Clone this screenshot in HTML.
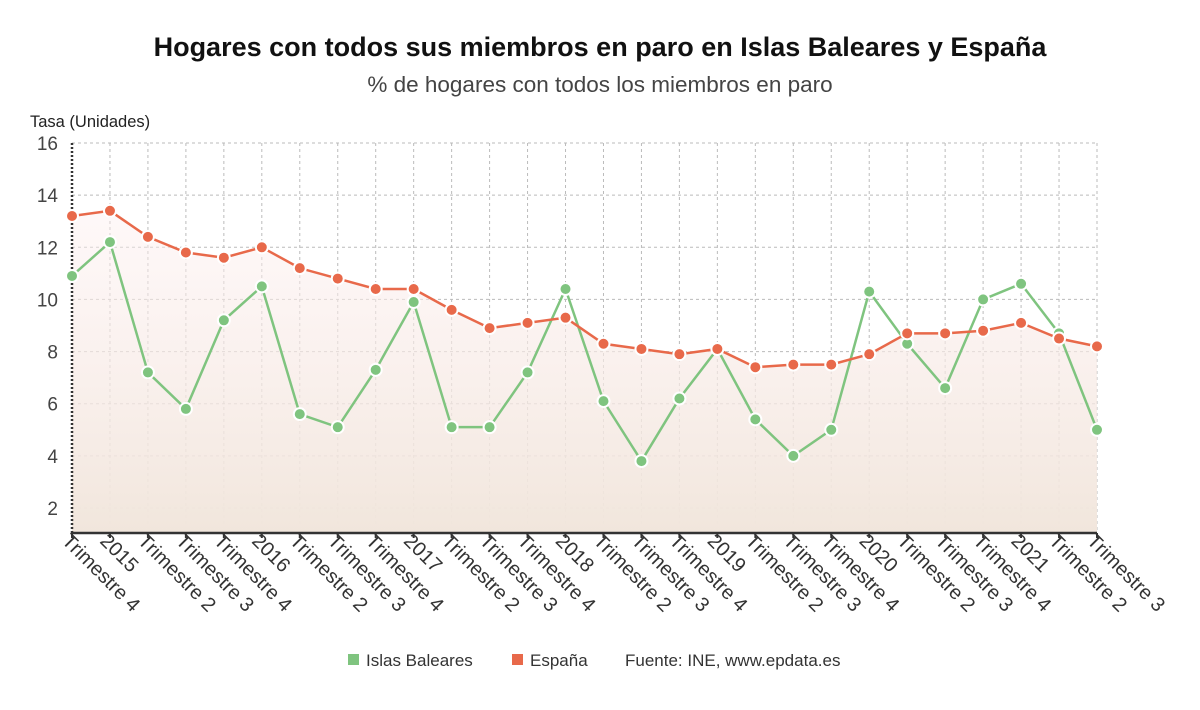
<!DOCTYPE html>
<html><head><meta charset="utf-8"><style>
body{margin:0;background:#fff;width:1200px;height:705px;overflow:hidden;font-family:"Liberation Sans","DejaVu Sans",sans-serif}
</style></head><body>
<svg id="chart" width="1200" height="705" xmlns="http://www.w3.org/2000/svg">
<defs><linearGradient id="g" x1="0" y1="0" x2="0" y2="1"><stop offset="0" stop-color="#fdeeee" stop-opacity="0.4"/><stop offset="1" stop-color="#f1e6dc"/></linearGradient></defs>
<text x="600" y="56" text-anchor="middle" font-size="27" font-weight="bold" fill="#111">Hogares con todos sus miembros en paro en Islas Baleares y España</text>
<text x="600" y="92" text-anchor="middle" font-size="22.5" fill="#444">% de hogares con todos los miembros en paro</text>
<text x="30" y="127" font-size="16.5" fill="#222">Tasa (Unidades)</text>
<g id="grid"></g><g id="area"></g><g id="lines"></g><g id="xlabels"></g>
<g font-size="17" fill="#333">
<rect x="348" y="654" width="11" height="11" fill="#7fc47f"/>
<text x="366" y="666">Islas Baleares</text>
<rect x="512" y="654" width="11" height="11" fill="#e8694a"/>
<text x="530" y="666">España</text>
<text x="625" y="666">Fuente: INE, www.epdata.es</text>
</g>
</svg>
<script>
const categories=["Trimestre 4","2015","Trimestre 2","Trimestre 3","Trimestre 4","2016","Trimestre 2","Trimestre 3","Trimestre 4","2017","Trimestre 2","Trimestre 3","Trimestre 4","2018","Trimestre 2","Trimestre 3","Trimestre 4","2019","Trimestre 2","Trimestre 3","Trimestre 4","2020","Trimestre 2","Trimestre 3","Trimestre 4","2021","Trimestre 2","Trimestre 3"];
const baleares=[10.9,12.2,7.2,5.8,9.2,10.5,5.6,5.1,7.3,9.9,5.1,5.1,7.2,10.4,6.1,3.8,6.2,8.1,5.4,4.0,5.0,10.3,8.3,6.6,10.0,10.6,8.7,5.0];
const espana=[13.2,13.4,12.4,11.8,11.6,12.0,11.2,10.8,10.4,10.4,9.6,8.9,9.1,9.3,8.3,8.1,7.9,8.1,7.4,7.5,7.5,7.9,8.7,8.7,8.8,9.1,8.5,8.2];
const yTicks=[2,4,6,8,10,12,14,16];
const X0=72,X1=1097,Y16=143,YB=533,UNIT=(508-143)/14;
const x=i=>X0+i*(X1-X0)/(categories.length-1);
const y=v=>Y16+(16-v)*UNIT;
const NS="http://www.w3.org/2000/svg";
function mk(p,t,a){const e=document.createElementNS(NS,t);for(const k in a)e.setAttribute(k,a[k]);document.getElementById(p).appendChild(e);return e;}
yTicks.forEach(t=>{
 const l=mk("grid","line",{x1:X0,x2:X1,y1:y(t),y2:y(t),stroke:"#bbb","stroke-dasharray":"3,3"});
 
 
 const tx=mk("grid","text",{x:58,y:y(t)+7,"text-anchor":"end","font-size":19,fill:"#444"});tx.textContent=t;
 
 
});
categories.forEach((c,i)=>{
 if(i>0){const l=mk("grid","line",{x1:x(i),x2:x(i),y1:Y16,y2:YB,stroke:"#bbb","stroke-dasharray":"3,3"});
 
 }
 const tk=mk("grid","line",{x1:x(i),x2:x(i),y1:YB,y2:YB+5,stroke:"#333","stroke-width":2});
 
 
 const t=mk("xlabels","text",{x:0,y:0,"font-size":20,fill:"#333",transform:`translate(${x(i)-11},${YB+9}) rotate(45)`});
 t.textContent=c;
 
 
});
let ap=`M${x(0)},${YB}`;espana.forEach((v,i)=>ap+=` L${x(i)},${y(v)}`);ap+=` L${x(espana.length-1)},${YB}Z`;
const ar=mk("area","path",{d:ap,fill:"url(#g)"});


const ax=mk("area","line",{x1:X0,x2:X0,y1:Y16,y2:YB,stroke:"#333","stroke-width":2.5,"stroke-dasharray":"2,2"});


const bx=mk("area","line",{x1:X0,x2:X1,y1:YB,y2:YB,stroke:"#333","stroke-width":2.5});


[[baleares,"#7fc47f","baleares"],[espana,"#e8694a","espana"]].forEach(([d,col,n])=>{
 const p=mk("lines","polyline",{points:d.map((v,i)=>x(i)+","+y(v)).join(" "),fill:"none",stroke:col,"stroke-width":2.5});
 
 
 d.forEach((v,i)=>{const c=mk("lines","circle",{cx:x(i),cy:y(v),r:6,fill:col,stroke:"#fff","stroke-width":2});
 
 });
});
</script>
</body></html>
